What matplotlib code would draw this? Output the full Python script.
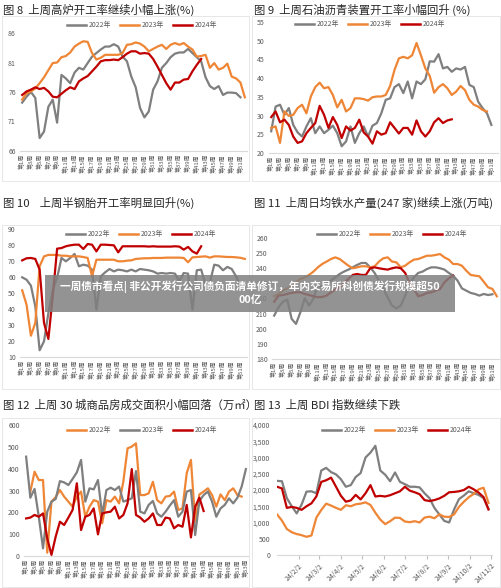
import numpy as np
import pandas as pd
import matplotlib
matplotlib.use("Agg")
import matplotlib.pyplot as plt
from matplotlib.patches import Rectangle
from matplotlib.lines import Line2D

plt.rcParams['font.family'] = ['Noto Sans CJK SC', 'DejaVu Sans']

# ---- data ----
# fig 8: blast furnace operating rate (%)
bf_2022 = [74.2, 75.2, 76.0, 75.0, 68.2, 69.3, 73.5, 74.7, 70.8, 78.9, 78.3, 77.5, 79.3, 80.1, 79.8, 80.9,
           82.0, 82.6, 83.2, 83.7, 83.7, 84.1, 83.7, 82.0, 81.2, 78.6, 76.8, 73.3, 71.7, 72.7, 76.4, 77.8,
           80.1, 80.9, 81.9, 82.5, 82.7, 82.7, 83.3, 82.6, 81.9, 81.2, 78.5, 77.0, 76.5, 77.0, 75.5, 75.9,
           75.9, 75.8, 75.1]
bf_2023 = [74.7, 75.8, 76.1, 76.6, 77.5, 78.5, 79.7, 80.9, 81.0, 81.9, 82.1, 82.7, 83.7, 84.2, 84.6, 84.5,
           82.6, 81.5, 81.8, 82.3, 82.3, 82.3, 82.3, 82.6, 84.0, 84.1, 84.4, 84.2, 83.7, 82.9, 83.3, 83.7,
           84.0, 83.3, 84.0, 84.3, 84.0, 84.3, 83.7, 83.2, 82.0, 82.1, 82.3, 80.1, 80.9, 79.8, 80.1, 80.8,
           78.6, 78.3, 77.6, 75.1]
bf_2024 = [75.5, 76.1, 76.4, 76.8, 76.5, 76.7, 76.1, 75.2, 75.1, 75.7, 76.3, 76.8, 76.5, 77.8, 78.3, 78.7,
           79.5, 80.3, 81.2, 81.4, 81.4, 81.5, 81.4, 81.9, 82.5, 82.9, 82.9, 82.5, 82.6, 82.5, 81.6, 80.3,
           78.9, 77.5, 76.4, 77.6, 77.6, 78.1, 78.2, 79.5, 80.6, 81.6]

# fig 9: asphalt plant operating rate (%)
asp_2022 = [25.8, 32.4, 32.9, 30.2, 32.0, 27.5, 25.5, 24.4, 27.1, 29.3, 25.3, 27.1, 25.3, 26.2, 27.3, 25.3,
            21.8, 23.1, 27.1, 22.7, 25.3, 27.1, 24.4, 27.3, 28.0, 30.6, 34.2, 34.6, 37.6, 38.4, 36.0, 39.1,
            34.6, 39.1, 38.4, 39.7, 44.5, 44.4, 46.4, 42.6, 43.0, 41.7, 42.6, 42.3, 43.0, 38.2, 37.6, 33.7,
            32.0, 30.6, 27.5]
asp_2023 = [26.7, 27.1, 22.7, 31.1, 29.9, 30.2, 32.0, 32.9, 30.6, 35.1, 37.6, 38.8, 37.3, 37.6, 35.5, 32.2,
            34.2, 31.1, 32.0, 34.6, 34.6, 34.4, 34.0, 34.9, 35.1, 35.1, 35.5, 37.9, 42.2, 45.3, 45.7, 45.3,
            46.1, 49.4, 46.1, 42.6, 40.6, 36.1, 37.6, 38.4, 37.3, 35.5, 36.4, 37.9, 36.8, 34.2, 32.9, 32.4,
            31.5, 31.1]
asp_2024 = [29.6, 31.1, 28.2, 28.9, 27.5, 24.4, 22.7, 23.1, 25.3, 26.7, 28.0, 32.6, 30.2, 26.7, 29.6, 27.5,
            24.0, 27.1, 26.0, 26.7, 28.9, 25.5, 24.4, 22.5, 25.8, 24.9, 25.3, 28.2, 26.7, 25.2, 26.7, 26.7,
            24.9, 28.7, 25.8, 24.4, 25.8, 28.2, 29.3, 28.0, 28.7, 29.0]

# fig 10: semi-steel tyre operating rate (%)
tyre_2022 = [59.8, 58.3, 54.6, 41.7, 14.2, 19.8, 37.5, 52.0, 59.4, 71.9, 69.8, 71.9, 74.4, 66.7, 67.7, 67.1,
             64.6, 39.6, 60.4, 62.9, 65.0, 63.5, 64.6, 64.2, 63.5, 64.6, 63.5, 65.0, 64.6, 64.2, 63.5, 62.1,
             62.5, 62.1, 62.5, 62.1, 57.3, 62.5, 62.1, 39.6, 64.2, 64.6, 55.2, 56.7, 67.7, 67.1, 64.2, 66.3,
             65.0, 60.4, 54.2]
tyre_2023 = [51.7, 42.7, 23.3, 31.3, 66.7, 72.9, 73.8, 73.8, 73.8, 73.3, 73.3, 72.9, 72.9, 72.9, 72.5, 71.9,
             60.4, 70.8, 70.8, 70.8, 70.8, 70.8, 69.8, 69.8, 70.2, 70.4, 71.3, 71.5, 71.7, 71.7, 71.9, 71.9,
             71.9, 72.1, 72.1, 72.1, 72.1, 71.9, 69.2, 72.3, 72.5, 72.7, 72.9, 72.1, 72.9, 72.9, 72.7, 72.5,
             72.5, 72.3, 72.0, 71.3]
tyre_2024 = [70.4, 71.7, 71.9, 71.3, 64.6, 31.3, 21.3, 47.9, 77.7, 78.1, 79.2, 79.8, 80.2, 80.2, 77.5, 80.6,
             80.2, 76.0, 80.2, 80.2, 80.0, 79.8, 75.4, 79.2, 79.2, 79.2, 79.2, 79.2, 79.2, 79.0, 79.2, 79.0,
             79.0, 79.0, 79.0, 79.2, 79.0, 77.1, 78.8, 76.0, 74.6, 79.2]

# fig 11: daily hot metal output (10k t)
iron_2022 = [208.7, 214.2, 217.9, 219.3, 206.5, 203.2, 210.9, 220.1, 215.3, 220.1, 228.9, 227.4, 229.6, 231.8,
             234.0, 236.2, 237.8, 239.1, 240.6, 242.2, 243.5, 243.5, 240.6, 236.9, 231.8, 226.3, 220.8, 215.3,
             213.5, 215.3, 221.9, 229.6, 234.0, 236.9, 237.8, 239.5, 240.6, 240.6, 240.0, 239.1, 236.9, 235.1,
             231.8, 226.7, 225.2, 223.7, 223.0, 221.9, 223.0, 222.3, 222.8]
iron_2023 = [221.5, 223.0, 225.2, 226.7, 228.1, 230.7, 232.9, 234.0, 235.6, 237.8, 240.6, 242.8, 244.4, 246.1,
             247.2, 246.1, 243.9, 241.7, 240.0, 240.6, 241.3, 241.3, 240.6, 241.3, 244.4, 246.6, 247.2, 244.4,
             243.9, 240.6, 241.7, 243.9, 245.7, 246.1, 247.2, 248.3, 248.3, 248.8, 249.4, 247.2, 245.7, 242.8,
             242.8, 241.7, 238.4, 235.6, 235.1, 234.7, 231.1, 227.4, 226.3, 221.5]
iron_2024 = [217.9, 221.9, 222.3, 223.0, 223.7, 224.1, 224.1, 223.0, 222.3, 221.5, 220.8, 221.0, 221.9, 224.1,
             225.9, 227.4, 230.3, 232.9, 235.6, 236.2, 235.6, 235.6, 240.0, 240.6, 240.0, 239.5, 239.1, 240.0,
             240.6, 240.0, 236.9, 230.3, 226.3, 221.5, 222.3, 223.7, 224.1, 225.2, 226.3, 230.7, 233.3, 235.1]

# fig 12: 30-city housing sales area (10k m2)
house_2022 = [np.nan, 295, 386, 348, 348, 15, 249, 270, 302, 272, 249, 226, 272, 295, 180, 226, 256, 249,
              150, 256, 249, 272, 241, 340, 493, 501, 516, 279, 279, 287, 340, 256, 241, 272, 275, 295,
              211, 218, 379, 440, 157, 282, 295, 310, 279, 226, 282, 256, 295, 310, 279, 272]
house_2023 = [455, 267, 307, 180, 35, 203, 249, 261, 343, 337, 325, 353, 383, 440, 249, 310, 305, 348,
              188, 302, 313, 302, 318, 249, 256, 264, 389, 203, 195, 234, 252, 195, 180, 203, 231, 256,
              180, 203, 295, 302, 96, 252, 279, 295, 249, 180, 218, 234, 264, 241, 267, 318, 398]
house_2024 = [172, 176, 188, 180, 195, 81, 5, 89, 157, 142, 176, 211, 333, 119, 180, 188, 218, 99,
              195, 200, 203, 226, 172, 188, 241, 398, 188, 176, 157, 172, 195, 142, 142, 176, 172, 127,
              142, 134, 234, 85, 226, 267, 206]

# fig 13: BDI, weekly samples from 2 Jan
bdi_2022 = [2280, 2270, 1750, 1500, 1280, 1550, 1950, 1960, 1900, 2600, 2680, 2550, 2480, 2330, 2100, 2150,
            2400, 2520, 3000, 3150, 3360, 2600, 2470, 2270, 2540, 2250, 2180, 2100, 2100, 2080, 1900, 1750,
            1450, 1250, 1050, 1000, 1400, 1720, 1830, 1960, 1900, 1850, 1750, 1420]
bdi_2023 = [1250, 1060, 800, 700, 645, 610, 560, 600, 1150, 1385, 1580, 1520, 1450, 1390, 1530, 1500,
            1560, 1580, 1620, 1540, 1300, 1090, 950, 1040, 1150, 1140, 1030, 1010, 1040, 1000, 1150, 1180,
            1130, 1250, 1180, 1170, 1250, 1480, 1640, 1780, 1880, 2020, 2070, 1600]
bdi_2024 = [2100, 2050, 1450, 1480, 1450, 1390, 1500, 1590, 1800, 2250, 2300, 2380, 2100, 1820, 1640, 1680,
            1850, 1710, 1900, 2150, 1800, 1820, 1800, 1840, 1900, 1960, 2100, 1980, 1930, 1870, 1690, 1660,
            1690, 1740, 1820, 1930, 1940, 1960, 2000, 2100, 2020, 1920, 1780, 1400]
bdi_dates = pd.date_range("2024-01-02", periods=len(bdi_2024), freq="7D")

titles = ["图 8  上周高炉开工率继续小幅上涨(%)",
          "图 9  上周石油沥青装置开工率小幅回升 (%)",
          "图 10    上周半钢胎开工率明显回升(%)",
          "图 11  上周日均铁水产量(247 家)继续上涨(万吨)",
          "图 12  上周 30 城商品房成交面积小幅回落（万㎡）",
          "图 13  上周 BDI 指数继续下跌"]
banner = ["一周债市看点| 非公开发行公司债负面清单修订，年内交易所科创债发行规模超50", "00亿"]

GREY, ORANGE, RED = "#7f7f7f", "#ef8636", "#c00000"
TXT = "#595959"
W, H = 502, 588
fig = plt.figure(figsize=(W / 100, H / 100), dpi=100)


def px_axes(l, t, r, b):
    return fig.add_axes([l / W, 1 - b / H, (r - l) / W, (b - t) / H])


def base_style(ax, ylim, yticks):
    ax.set_ylim(*ylim)
    ax.set_yticks(yticks)
    for s in ["top", "right", "left"]:
        ax.spines[s].set_visible(False)
    ax.spines["bottom"].set_color("#d9d9d9")
    ax.spines["bottom"].set_linewidth(0.8)
    ax.tick_params(axis="y", length=0, labelsize=5, colors=TXT, pad=3)
    ax.set_facecolor("none")


def week_axis(ax, n):
    ax.set_xlim(0.5, n + 0.5)
    ticks = list(range(1, n + 1, 2))
    ax.set_xticks(ticks)
    ax.set_xticklabels([f"第{w}周" for w in ticks], rotation=90, fontsize=4.3, color=TXT)
    ax.tick_params(axis="x", length=0, pad=2)


def draw_weeks(ax, series, colors):
    for vals, c in zip(series, colors):
        ax.plot(np.arange(1, len(vals) + 1), vals, color=c, lw=1.6, solid_joinstyle="round")


def legend(cx, cy, labels, colors):
    handles = [Line2D([], [], color=c, lw=1.8) for c in colors]
    fig.legend(handles, labels, loc="center", bbox_to_anchor=(cx / W, 1 - cy / H), ncol=3,
               frameon=False, fontsize=5, handlelength=2.8, handletextpad=0.4, columnspacing=1.2,
               labelcolor=TXT)


def frame(l, t, r, b):
    fig.patches.append(Rectangle((l / W, 1 - b / H), (r - l) / W, (b - t) / H, transform=fig.transFigure,
                                 fill=False, edgecolor="#e3e3e3", lw=0.6))


years = ["2022年", "2023年", "2024年"]
cols = [GREY, ORANGE, RED]

frame(2, 16, 249, 181)
frame(252, 16, 500, 181)
frame(2, 225, 249, 389)
frame(252, 225, 500, 389)
frame(2, 418, 249, 587)
frame(252, 418, 500, 587)

# fig 8
ax = px_axes(20, 33, 247, 151)
draw_weeks(ax, [bf_2022, bf_2023, bf_2024], cols)
base_style(ax, (66, 86), [66, 71, 76, 81, 86])
week_axis(ax, 52)
legend(142, 25, years, cols)

# fig 9
ax = px_axes(269, 22, 498, 153)
draw_weeks(ax, [asp_2022, asp_2023, asp_2024], cols)
base_style(ax, (20, 55), range(20, 56, 5))
week_axis(ax, 52)
legend(370, 24, years, cols)

# fig 10
ax = px_axes(20, 229, 247, 357)
draw_weeks(ax, [tyre_2022, tyre_2023, tyre_2024], cols)
base_style(ax, (10, 90), range(10, 91, 10))
week_axis(ax, 52)
legend(141, 234, years, cols)

# fig 11
ax = px_axes(272, 238, 499, 359)
draw_weeks(ax, [iron_2022, iron_2023, iron_2024], cols)
base_style(ax, (180, 260), range(180, 261, 10))
week_axis(ax, 52)
legend(392, 234, years, cols)

# fig 12 (colours swapped: 2022 orange, 2023 grey)
cols12 = [ORANGE, GREY, RED]
ax = px_axes(24, 425, 248, 556)
draw_weeks(ax, [house_2022, house_2023, house_2024], cols12)
base_style(ax, (0, 600), range(0, 601, 100))
week_axis(ax, 53)
legend(142, 430, years, cols12)

# fig 13
ax = px_axes(277, 425, 492, 555)
for vals, c in zip([bdi_2022, bdi_2023, bdi_2024], cols):
    ax.plot(bdi_dates, vals, color=c, lw=1.6, solid_joinstyle="round")
base_style(ax, (0, 4000), range(0, 4001, 500))
ax.yaxis.set_major_formatter(matplotlib.ticker.FuncFormatter(lambda v, p: f"{int(v):,}"))
ax.tick_params(axis="y", pad=5)
ax.set_xlim(pd.Timestamp("2024-01-02"), pd.Timestamp("2024-11-03"))
mticks = pd.date_range("2024-01-02", periods=10, freq="MS") + pd.Timedelta(days=1)
ax.set_xticks(mticks)
ax.set_xticklabels([f"24/{d.month}/2" for d in mticks], rotation=45, ha="right", va="top",
                   rotation_mode="anchor", fontsize=5, color=TXT)
ax.tick_params(axis="x", length=3, color="#bfbfbf", pad=2)
legend(397, 430, years, cols)

# titles
for (x, y), t in zip([(3, 10), (254, 10), (3, 203), (254, 203), (3, 405), (254, 405)], titles):
    fig.text(x / W, 1 - y / H, t, ha="left", va="center", fontsize=8.2, color="#262626")

# news banner overlay (one two-line text block)
fig.patches.append(Rectangle((45 / W, 1 - 312 / H), 410 / W, 37 / H, transform=fig.transFigure,
                             facecolor="#808080", edgecolor="none", alpha=0.85, zorder=10))
fig.text(250 / W, 1 - 292.5 / H, "\n".join(banner), ha="center", va="center", ma="center",
         color="white", fontsize=7.7, fontweight="bold", linespacing=1.3, zorder=11)

fig.savefig("out.png", dpi=100)
